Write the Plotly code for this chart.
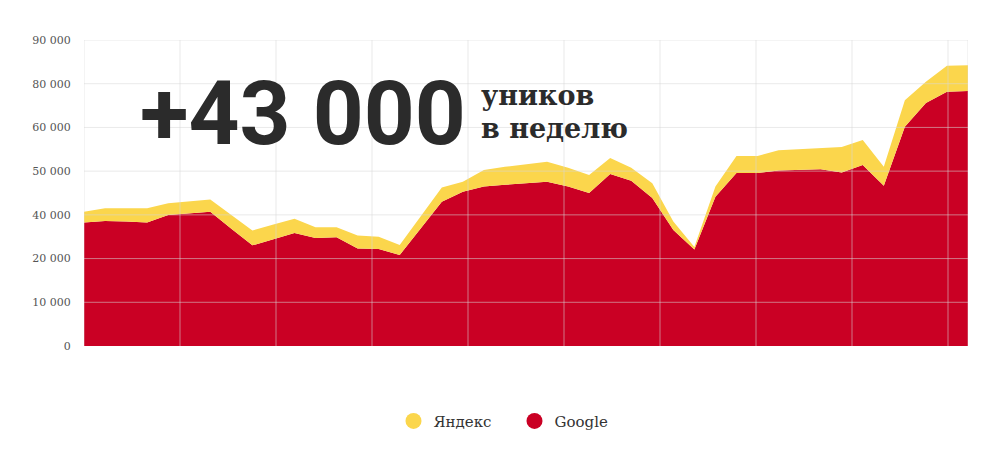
import plotly.graph_objects as go

# weekly unique visitors
weeks = list(range(43))
google = [36300, 36800, 36600, 36300, 38500, 39000, 39500, 34500, 29600, 31400,
          33200, 31800, 32000, 28700, 28500, 26800, 34500, 42400, 45400, 46900,
          47400, 47900, 48300, 46900, 45000, 50600, 48600, 43500, 34100, 28400,
          43900, 50900, 50900, 51600, 51800, 52000, 51000, 53200, 47100, 64500,
          71500, 74800, 75000]
yandex = [3200, 3700, 3900, 4200, 3500, 3500, 3600, 4000, 4400, 4300,
          4200, 3100, 2900, 3800, 3600, 2900, 3500, 4200, 2900, 4900,
          5300, 5600, 5900, 5500, 5300, 4700, 3800, 4400, 2500, 700,
          3000, 5000, 5000, 6000, 6100, 6200, 7500, 7400, 5600, 7800,
          6200, 7600, 7600]

# the axis labels as printed on the original (evenly spaced on a 0..90 000 scale)
tick_text = ["0", "10 000", "20 000", "40 000", "50 000", "60 000", "80 000", "90 000"]

YELLOW = "#FBD64C"
RED = "#CA0024"
GRID = "rgba(215,215,215,0.55)"
Y_MAX = 90000
X_MAX = 42
GRID_STEP = X_MAX * 96 / 884

tick_vals = [Y_MAX * i / 7 for i in range(8)]


def main():
    fig = go.Figure()
    fig.add_trace(go.Scatter(x=weeks, y=google, name="Google", stackgroup="one",
                             mode="lines", line=dict(width=0), fillcolor=RED,
                             showlegend=False, hoverinfo="skip"))
    fig.add_trace(go.Scatter(x=weeks, y=yandex, name="Яндекс", stackgroup="one",
                             mode="lines", line=dict(width=0), fillcolor=YELLOW,
                             showlegend=False, hoverinfo="skip"))

    # round legend markers
    for name, color in [("Яндекс", YELLOW), ("Google", RED)]:
        fig.add_trace(go.Scatter(x=[None], y=[None], name=name, mode="markers",
                                 marker=dict(size=17, color=color)))

    # grid drawn above the areas, as in the original
    shapes = []
    for v in tick_vals[1:]:
        shapes.append(dict(type="line", xref="x", yref="y", x0=0, x1=X_MAX, y0=v, y1=v,
                           line=dict(color=GRID, width=1), layer="above"))
    k = 1
    while k * GRID_STEP < X_MAX - 0.1:
        shapes.append(dict(type="line", xref="x", yref="y", x0=k * GRID_STEP, x1=k * GRID_STEP,
                           y0=0, y1=Y_MAX, line=dict(color=GRID, width=1), layer="above"))
        k += 1
    for xv in [0, X_MAX]:
        shapes.append(dict(type="line", xref="x", yref="y", x0=xv, x1=xv, y0=0, y1=Y_MAX,
                           line=dict(color=GRID, width=1), layer="above"))

    # the page body adds an 8px offset, margins compensate for it
    fig.update_layout(
        width=999, height=453,
        margin=dict(l=76, r=39, t=32, b=115),
        paper_bgcolor="white", plot_bgcolor="white",
        shapes=shapes,
        hovermode=False,
        showlegend=True,
        legend=dict(orientation="h", xref="container", yref="container",
                    x=0.507, xanchor="center", y=0.088, yanchor="middle",
                    traceorder="normal",
                    font=dict(family="DejaVu Serif", size=15, color="#333333"),
                    itemclick=False, entrywidth=76),
        font=dict(family="DejaVu Serif", color="#555555"),
    )
    fig.update_xaxes(range=[0, X_MAX], showgrid=False, zeroline=False,
                     showticklabels=False, ticks="")
    fig.update_yaxes(range=[0, Y_MAX], tickvals=tick_vals, ticktext=tick_text,
                     showgrid=False, zeroline=False, ticks="outside", ticklen=10,
                     tickcolor="rgba(0,0,0,0)",
                     tickfont=dict(family="DejaVu Serif", size=11, color="#555555"))

    fig.add_annotation(text="+43 000", xref="paper", yref="paper", x=0.061, y=0.761,
                       xanchor="left", yanchor="middle", showarrow=False,
                       font=dict(family="Roboto", size=89, color="#2b2b2b", weight="bold"))
    fig.add_annotation(text="уников", xref="paper", yref="paper", x=0.447, y=0.82,
                       xanchor="left", yanchor="middle", showarrow=False,
                       font=dict(family="DejaVu Serif", size=27, color="#2b2b2b", weight="bold"))
    fig.add_annotation(text="в неделю", xref="paper", yref="paper", x=0.447, y=0.712,
                       xanchor="left", yanchor="middle", showarrow=False,
                       font=dict(family="DejaVu Serif", size=27, color="#2b2b2b", weight="bold"))

    fig.write_html("out.html")


if __name__ == "__main__":
    main()
